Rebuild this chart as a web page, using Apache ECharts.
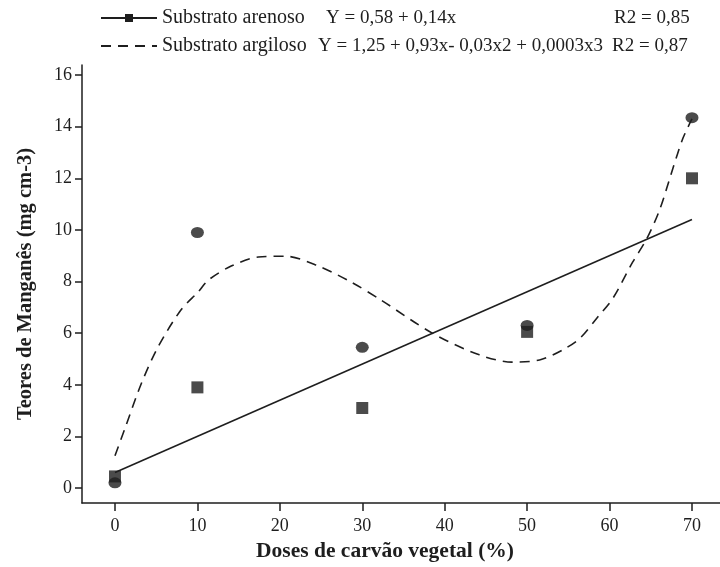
<!DOCTYPE html>
<html>
<head>
<meta charset="utf-8">
<script src="https://cdn.jsdelivr.net/npm/echarts@6/dist/echarts.min.js"></script>
<style>html,body{margin:0;padding:0;background:#fff}#c{width:720px;height:567px}</style>
</head>
<body>
<div id="c"></div>
<script>
// ---- data ----
const xTicks = [0, 10, 20, 30, 40, 50, 60, 70];
const yTicks = [0, 2, 4, 6, 8, 10, 12, 14, 16];

const arenosoPoints = [[0, 0.45], [10, 3.9], [30, 3.1], [50, 6.05], [70, 12.0]];
const argilosoPoints = [[0, 0.2], [10, 9.9], [30, 5.45], [50, 6.3], [70, 14.35]];

// fitted lines
const arenosoFit = [[0, 0.6], [70, 10.4]];
const argilosoFit = [[0, 1.25], [1.2, 2.3], [3.2, 4.05], [5.2, 5.45], [8, 6.9], [10.1, 7.6], [11.3, 8.05],
  [14.1, 8.6], [17.4, 8.95], [20.7, 8.98], [24.7, 8.6], [28.7, 7.97], [32.2, 7.3], [38.5, 6.0],
  [44.2, 5.16], [48.2, 4.88], [51.5, 4.96], [54.3, 5.35], [56.4, 5.8], [58.5, 6.6], [60.4, 7.35],
  [62.8, 8.75], [64.5, 9.65], [66.1, 10.8], [67.7, 12.4], [68.9, 13.55], [70, 14.3]];

const seriesNames = ['Substrato arenoso', 'Substrato argiloso'];
const equations = ['Y = 0,58 + 0,14x', 'Y = 1,25 + 0,93x- 0,03x2 + 0,0003x3'];
const r2Labels = ['R2 = 0,85', 'R2 = 0,87'];

const xTitle = 'Doses de carvão vegetal (%)';
const yTitle = 'Teores de Manganês (mg cm-3)';

const INK = '#1e1e1e';
const FONT = '"Liberation Serif", "DejaVu Serif", serif';
const LEG = 19;

const chart = echarts.init(document.getElementById('c'), null, {renderer: 'canvas'});
chart.setOption({
  backgroundColor: '#fff',
  animation: false,
  textStyle: {fontFamily: FONT, color: INK},
  legend: {
    orient: 'vertical',
    left: 95,
    top: 3,
    itemGap: 8,
    itemWidth: 56,
    itemHeight: 10,
    data: [
      {name: seriesNames[0]},
      {name: seriesNames[1], itemStyle: {opacity: 0}}
    ],
    formatter: function (name) {
      const i = seriesNames.indexOf(name);
      return '{n' + i + '|' + name + '}{e' + i + '|' + equations[i] + '}{b|' + r2Labels[i] + '}';
    },
    textStyle: {
      fontFamily: FONT, color: INK, fontSize: LEG,
      rich: {
        n0: {fontFamily: FONT, color: INK, fontSize: 20, width: 164},
        e0: {fontFamily: FONT, color: INK, fontSize: LEG, width: 288},
        n1: {fontFamily: FONT, color: INK, fontSize: 20, width: 156},
        e1: {fontFamily: FONT, color: INK, fontSize: LEG, width: 294},
        b: {fontFamily: FONT, color: INK, fontSize: LEG}
      }
    }
  },
  grid: {left: 82, right: 0, top: 65, bottom: 64, containLabel: false},
  xAxis: {
    type: 'value',
    min: -4,
    max: 73.4,
    name: xTitle,
    nameLocation: 'middle',
    nameGap: 37,
    nameTextStyle: {fontFamily: FONT, fontSize: 21.5, fontWeight: 'bold', color: INK, padding: [0, 32, 0, 0]},
    axisLine: {show: true, onZero: false, lineStyle: {color: INK, width: 1.5}},
    axisTick: {show: true, customValues: xTicks, length: 8, lineStyle: {color: INK, width: 1.5}},
    axisLabel: {customValues: xTicks, fontFamily: FONT, fontSize: 18, color: INK, margin: 14},
    splitLine: {show: false}
  },
  yAxis: {
    type: 'value',
    min: -0.58,
    max: 16.39,
    name: yTitle,
    nameLocation: 'middle',
    nameGap: 46,
    nameRotate: 90,
    nameTextStyle: {fontFamily: FONT, fontSize: 20.5, fontWeight: 'bold', color: INK},
    axisLine: {show: true, onZero: false, lineStyle: {color: INK, width: 1.5}},
    axisTick: {show: true, customValues: yTicks, length: 7, lineStyle: {color: INK, width: 1.5}},
    axisLabel: {customValues: yTicks, fontFamily: FONT, fontSize: 18, color: INK, margin: 10},
    splitLine: {show: false}
  },
  series: [
    {
      name: seriesNames[0],
      type: 'line',
      data: arenosoFit,
      symbol: 'rect',
      symbolSize: 9,
      showSymbol: false,
      itemStyle: {color: INK},
      lineStyle: {color: INK, width: 1.6, type: 'solid'},
      z: 2
    },
    {
      name: seriesNames[1],
      type: 'line',
      data: argilosoFit,
      smooth: 0.3,
      symbol: 'none',
      itemStyle: {color: INK},
      lineStyle: {color: INK, width: 1.6, type: [10, 7]},
      z: 2
    },
    {
      name: 'arenoso pontos',
      type: 'scatter',
      data: arenosoPoints,
      symbol: 'rect',
      symbolSize: 12,
      itemStyle: {color: INK},
      z: 3
    },
    {
      name: 'argiloso pontos',
      type: 'scatter',
      data: argilosoPoints,
      symbol: 'circle',
      symbolSize: [13, 11],
      itemStyle: {color: INK},
      z: 3
    }
  ]
});
</script>
</body>
</html>
